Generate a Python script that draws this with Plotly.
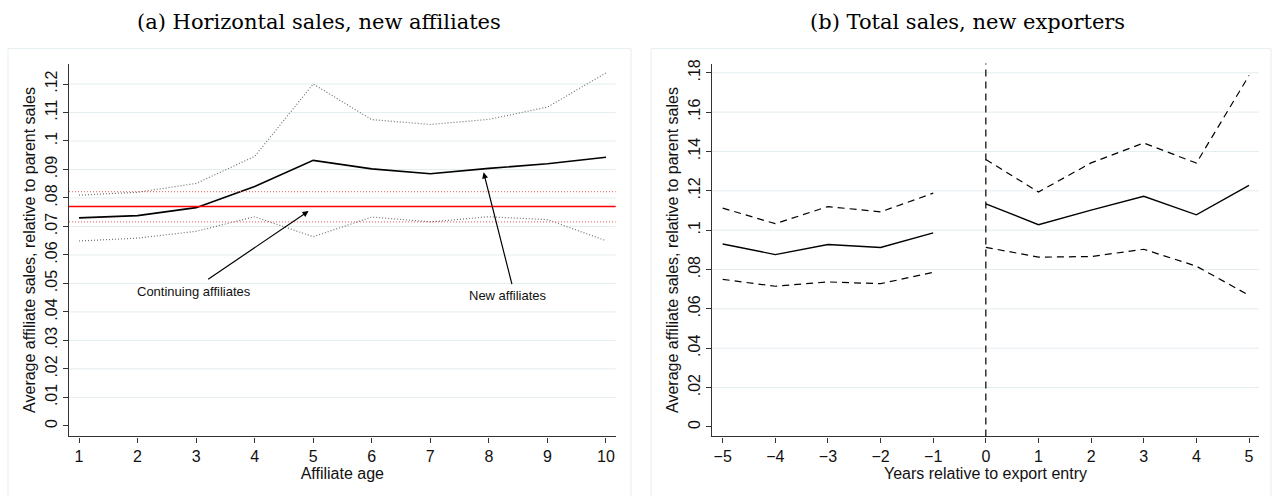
import plotly.graph_objects as go

# ---------- Panel (a): Horizontal sales, new affiliates ----------
age = [1, 2, 3, 4, 5, 6, 7, 8, 9, 10]
new_aff = [0.0730, 0.0738, 0.0766, 0.0840, 0.0932, 0.0902, 0.0885, 0.0904, 0.0920, 0.0943]
new_aff_hi = [0.0810, 0.0820, 0.0851, 0.0946, 0.1200, 0.1075, 0.1058, 0.1076, 0.1119, 0.1239]
new_aff_lo = [0.0649, 0.0659, 0.0683, 0.0734, 0.0664, 0.0733, 0.0716, 0.0734, 0.0724, 0.0650]
cont_mean = 0.0770
cont_hi = 0.0822
cont_lo = 0.0716
a_yticks = [0, 0.01, 0.02, 0.03, 0.04, 0.05, 0.06, 0.07, 0.08, 0.09, 0.10, 0.11, 0.12]
a_yticktext = ["0", ".01", ".02", ".03", ".04", ".05", ".06", ".07", ".08", ".09", ".1", ".11", ".12"]

# ---------- Panel (b): Total sales, new exporters ----------
yrs_pre = [-5, -4, -3, -2, -1]
yrs_post = [0, 1, 2, 3, 4, 5]
b_pre = [0.0930, 0.0876, 0.0927, 0.0912, 0.0986]
b_pre_hi = [0.1112, 0.1033, 0.1120, 0.1093, 0.1188]
b_pre_lo = [0.0750, 0.0715, 0.0737, 0.0728, 0.0786]
b_post = [0.1134, 0.1028, 0.1102, 0.1172, 0.1078, 0.1228]
b_post_hi = [0.1359, 0.1194, 0.1342, 0.1443, 0.1341, 0.1786]
b_post_lo = [0.0913, 0.0863, 0.0866, 0.0903, 0.0817, 0.0669]
b_xticks = [-5, -4, -3, -2, -1, 0, 1, 2, 3, 4, 5]
b_xticktext = ["\u22125", "\u22124", "\u22123", "\u22122", "\u22121", "0", "1", "2", "3", "4", "5"]
b_yticks = [0, 0.02, 0.04, 0.06, 0.08, 0.10, 0.12, 0.14, 0.16, 0.18]
b_yticktext = ["0", ".02", ".04", ".06", ".08", ".1", ".12", ".14", ".16", ".18"]

FONT = "Liberation Sans, Arial, sans-serif"
GRID = "#e4edf0"
AX = "#333333"
DOTS = "1px,2px"
DASH = "7px,5px"

fig = go.Figure()

# Panel a traces
fig.add_trace(go.Scatter(x=age, y=new_aff_hi, mode="lines", line=dict(color="#707070", width=1.2, dash=DOTS), xaxis="x", yaxis="y"))
fig.add_trace(go.Scatter(x=age, y=new_aff_lo, mode="lines", line=dict(color="#707070", width=1.2, dash=DOTS), xaxis="x", yaxis="y"))
fig.add_trace(go.Scatter(x=age, y=new_aff, mode="lines", line=dict(color="#000000", width=1.6), xaxis="x", yaxis="y"))

# Panel b traces
for xs, ys, dash, w in [
    (yrs_pre, b_pre_hi, DASH, 1.2), (yrs_pre, b_pre_lo, DASH, 1.2), (yrs_pre, b_pre, "solid", 1.4),
    (yrs_post, b_post_hi, DASH, 1.2), (yrs_post, b_post_lo, DASH, 1.2), (yrs_post, b_post, "solid", 1.4),
]:
    fig.add_trace(go.Scatter(x=xs, y=ys, mode="lines", line=dict(color="#000000", width=w, dash=dash), xaxis="x2", yaxis="y2"))

shapes = []
# panel frames
shapes.append(dict(type="rect", xref="paper", yref="paper", x0=8/1275, x1=631/1275, y0=-0.05, y1=1-45/496,
                   line=dict(color="#e6eef1", width=1), layer="below"))
shapes.append(dict(type="rect", xref="paper", yref="paper", x0=651/1275, x1=1271/1275, y0=-0.05, y1=1-45/496,
                   line=dict(color="#e6eef1", width=1), layer="below"))
# gridlines (skip zero)
for v in a_yticks[1:]:
    shapes.append(dict(type="line", xref="x domain", yref="y", x0=0, x1=1, y0=v, y1=v,
                       line=dict(color=GRID, width=1), layer="below"))
for v in b_yticks[1:]:
    shapes.append(dict(type="line", xref="x2 domain", yref="y2", x0=0, x1=1, y0=v, y1=v,
                       line=dict(color=GRID, width=1), layer="below"))
# continuing affiliates mean and band
shapes.append(dict(type="line", xref="x domain", yref="y", x0=0, x1=1, y0=cont_mean, y1=cont_mean,
                   line=dict(color="#ff0000", width=1.6)))
for v in (cont_hi, cont_lo):
    shapes.append(dict(type="line", xref="x domain", yref="y", x0=0, x1=1, y0=v, y1=v,
                       line=dict(color="#f27b74", width=1.2, dash=DOTS)))
# export entry vertical line
shapes.append(dict(type="line", xref="x2", yref="y2 domain", x0=0, x1=0, y0=0, y1=1,
                   line=dict(color="#000000", width=1.2, dash=DASH)))

annotations = [
    dict(text="(a) Horizontal sales, new affiliates", xref="paper", yref="paper", x=319/1275, y=1-18.5/496,
         xanchor="center", yanchor="middle", showarrow=False,
         font=dict(family="DejaVu Serif, serif", size=21, color="#000")),
    dict(text="(b) Total sales, new exporters", xref="paper", yref="paper", x=968/1275, y=1-18.5/496,
         xanchor="center", yanchor="middle", showarrow=False,
         font=dict(family="DejaVu Serif, serif", size=21, color="#000")),
    dict(text="Continuing affiliates", xref="x", yref="y", x=2.97, y=0.0470, showarrow=False,
         font=dict(family=FONT, size=13, color="#111")),
    dict(text="New affiliates", xref="x", yref="y", x=8.33, y=0.0459, showarrow=False,
         font=dict(family=FONT, size=13, color="#111")),
    # arrows
    dict(x=4.92, y=0.0754, ax=3.18, ay=0.0511, xref="x", yref="y", axref="x", ayref="y", text="",
         showarrow=True, arrowhead=2, arrowsize=1, arrowwidth=1.2, arrowcolor="#000"),
    dict(x=7.91, y=0.0890, ax=8.40, ay=0.0492, xref="x", yref="y", axref="x", ayref="y", text="",
         showarrow=True, arrowhead=2, arrowsize=1, arrowwidth=1.2, arrowcolor="#000"),
]

ydom = [1-436/496, 1-60/496]
common_x = dict(showgrid=False, zeroline=False, showline=True, linecolor=AX, linewidth=1.2,
                ticks="outside", ticklen=5, tickcolor=AX, tickwidth=1,
                tickfont=dict(family=FONT, size=16, color="#111"),
                title_font=dict(family=FONT, size=16, color="#111"), title_standoff=1)
common_y = dict(showgrid=False, zeroline=False, showline=True, linecolor=AX, linewidth=1.2,
                ticks="outside", ticklen=5, tickcolor=AX, tickwidth=1, tickangle=-90,
                tickfont=dict(family=FONT, size=16, color="#111"),
                title_font=dict(family=FONT, size=16, color="#111"), title_standoff=2)

fig.update_layout(
    width=1275, height=496, margin=dict(l=0, r=0, t=0, b=0),
    paper_bgcolor="white", plot_bgcolor="white", showlegend=False,
    xaxis=dict(domain=[69/1275, 615.7/1275], range=[0.829, 10.166], tickvals=age,
               title_text="Affiliate age", anchor="y", **common_x),
    yaxis=dict(domain=ydom, range=[-0.00373, 0.1272], tickvals=a_yticks, ticktext=a_yticktext,
               title_text="Average affiliate sales, relative to parent sales", anchor="x", **common_y),
    xaxis2=dict(domain=[712/1275, 1259/1275], range=[-5.203, 5.19], tickvals=b_xticks, ticktext=b_xticktext,
                title_text="Years relative to export entry", anchor="y2", **common_x),
    yaxis2=dict(domain=ydom, range=[-0.00485, 0.1847], tickvals=b_yticks, ticktext=b_yticktext,
                title_text="Average affiliate sales, relative to parent sales", anchor="x2", **common_y),
    shapes=shapes, annotations=annotations,
)

fig.write_html("out.html")
